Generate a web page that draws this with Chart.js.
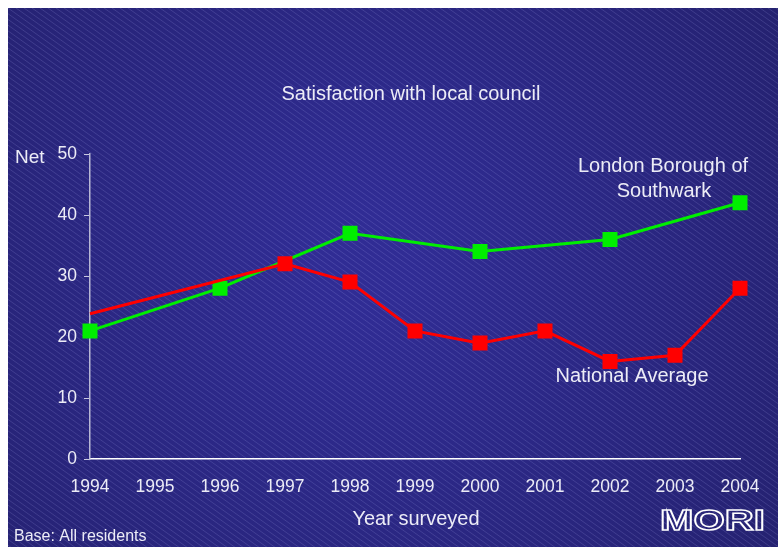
<!DOCTYPE html>
<html>
<head>
<meta charset="utf-8">
<script src="https://cdn.jsdelivr.net/npm/chart.js@4.4.1/dist/chart.umd.min.js"></script>
<style>
  html, body { margin: 0; padding: 0; background: #fff; overflow: hidden; }
  #wrap { position: absolute; left: 8px; top: 8px; width: 790px; height: 560px; overflow: hidden; }
</style>
</head>
<body>
<div id="wrap"><canvas id="chart" width="790" height="560"></canvas></div>
<script>
const years = ["1994", "1995", "1996", "1997", "1998", "1999", "2000", "2001", "2002", "2003", "2004"];
const southwark = [21, null, 28, null, 37, null, 34, null, 36, null, 42];
const national = [23.8, null, null, 32, 29, 21, 19, 21, 16, 17, 28];
const yTicks = [0, 10, 20, 30, 40, 50];

const FONT = "'Liberation Sans', Arial, sans-serif";
const TXT = "#ececf6";

// background: dark blue with faint diagonal hatching
const backdrop = {
  id: "backdrop",
  beforeDraw(chart) {
    const c = chart.ctx, w = chart.width, h = chart.height;
    c.save();
    const g = c.createRadialGradient(w * 0.45, h * 0.45, 50, w * 0.45, h * 0.5, w * 0.75);
    g.addColorStop(0, "#302c94");
    g.addColorStop(1, "#221f68");
    c.fillStyle = g;
    c.fillRect(0, 0, w, h);
    c.strokeStyle = "rgba(190,190,255,0.17)";
    c.lineWidth = 1;
    c.beginPath();
    for (let s = -h * 1.5; s < w; s += 8) {
      c.moveTo(s, 0);
      c.lineTo(s + h * 1.4, h);
    }
    c.stroke();
    c.restore();
  }
};

// titles and labels
const labels = {
  id: "labels",
  afterDraw(chart) {
    const c = chart.ctx;
    c.save();
    c.fillStyle = TXT;
    c.textBaseline = "middle";
    c.textAlign = "center";
    c.font = "20px " + FONT;
    c.fillText("Satisfaction with local council", 403, 86);
    c.fillText("London Borough of", 655, 158);
    c.fillText("Southwark", 656, 183);
    c.fillText("National Average", 624, 368);
    c.fillText("Year surveyed", 408, 511);
    c.textAlign = "left";
    c.font = "19px " + FONT;
    c.fillText("Net", 7, 150);
    c.font = "16px " + FONT;
    c.fillText("Base: All residents", 6, 529);
    // MORI logo, outlined
    c.font = "bold 30px " + FONT;
    c.strokeStyle = "#ffffff";
    c.lineWidth = 1.5;
    c.translate(652, 514);
    c.scale(1.34, 1);
    c.strokeText("MORI", 0, 0);
    c.restore();
  }
};

new Chart(document.getElementById("chart"), {
  type: "line",
  data: {
    labels: years,
    datasets: [
      {
        label: "National Average",
        data: national,
        borderColor: "#ff0000",
        backgroundColor: "#ff0000",
        borderWidth: 3,
        pointStyle: "rect",
        pointRadius: national.map((v, i) => i === 0 ? 0 : 8.5),
        pointHoverRadius: 8.5,
        spanGaps: true,
        tension: 0,
        order: 1
      },
      {
        label: "London Borough of Southwark",
        data: southwark,
        borderColor: "#00ee00",
        backgroundColor: "#00ee00",
        borderWidth: 3,
        pointStyle: "rect",
        pointRadius: 8.5,
        pointHoverRadius: 8.5,
        spanGaps: true,
        tension: 0,
        order: 2
      }
    ]
  },
  options: {
    responsive: false,
    animation: false,
    layout: { padding: { top: 146, right: 58, left: 0, bottom: 0 } },
    plugins: {
      legend: { display: false },
      title: { display: false },
      tooltip: { enabled: false }
    },
    scales: {
      x: {
        offset: false,
        afterFit(s) { s.height = 109; },
        grid: { drawOnChartArea: false, drawTicks: false, color: "transparent" },
        border: { color: "#ffffff", width: 1.5 },
        ticks: { color: TXT, font: { family: FONT, size: 17.5 }, padding: 18, maxRotation: 0, autoSkip: false }
      },
      y: {
        min: 0,
        max: 50,
        afterFit(s) { s.width = 82; },
        afterBuildTicks(s) { s.ticks = yTicks.map(v => ({ value: v })); },
        grid: { drawOnChartArea: false, drawTicks: true, tickLength: 6, tickColor: "#c8c8e0" },
        border: { color: "#b8b8d4", width: 1.5 },
        ticks: { color: TXT, font: { family: FONT, size: 17.5 }, padding: 7 }
      }
    }
  },
  plugins: [backdrop, labels]
});
</script>
</body>
</html>
